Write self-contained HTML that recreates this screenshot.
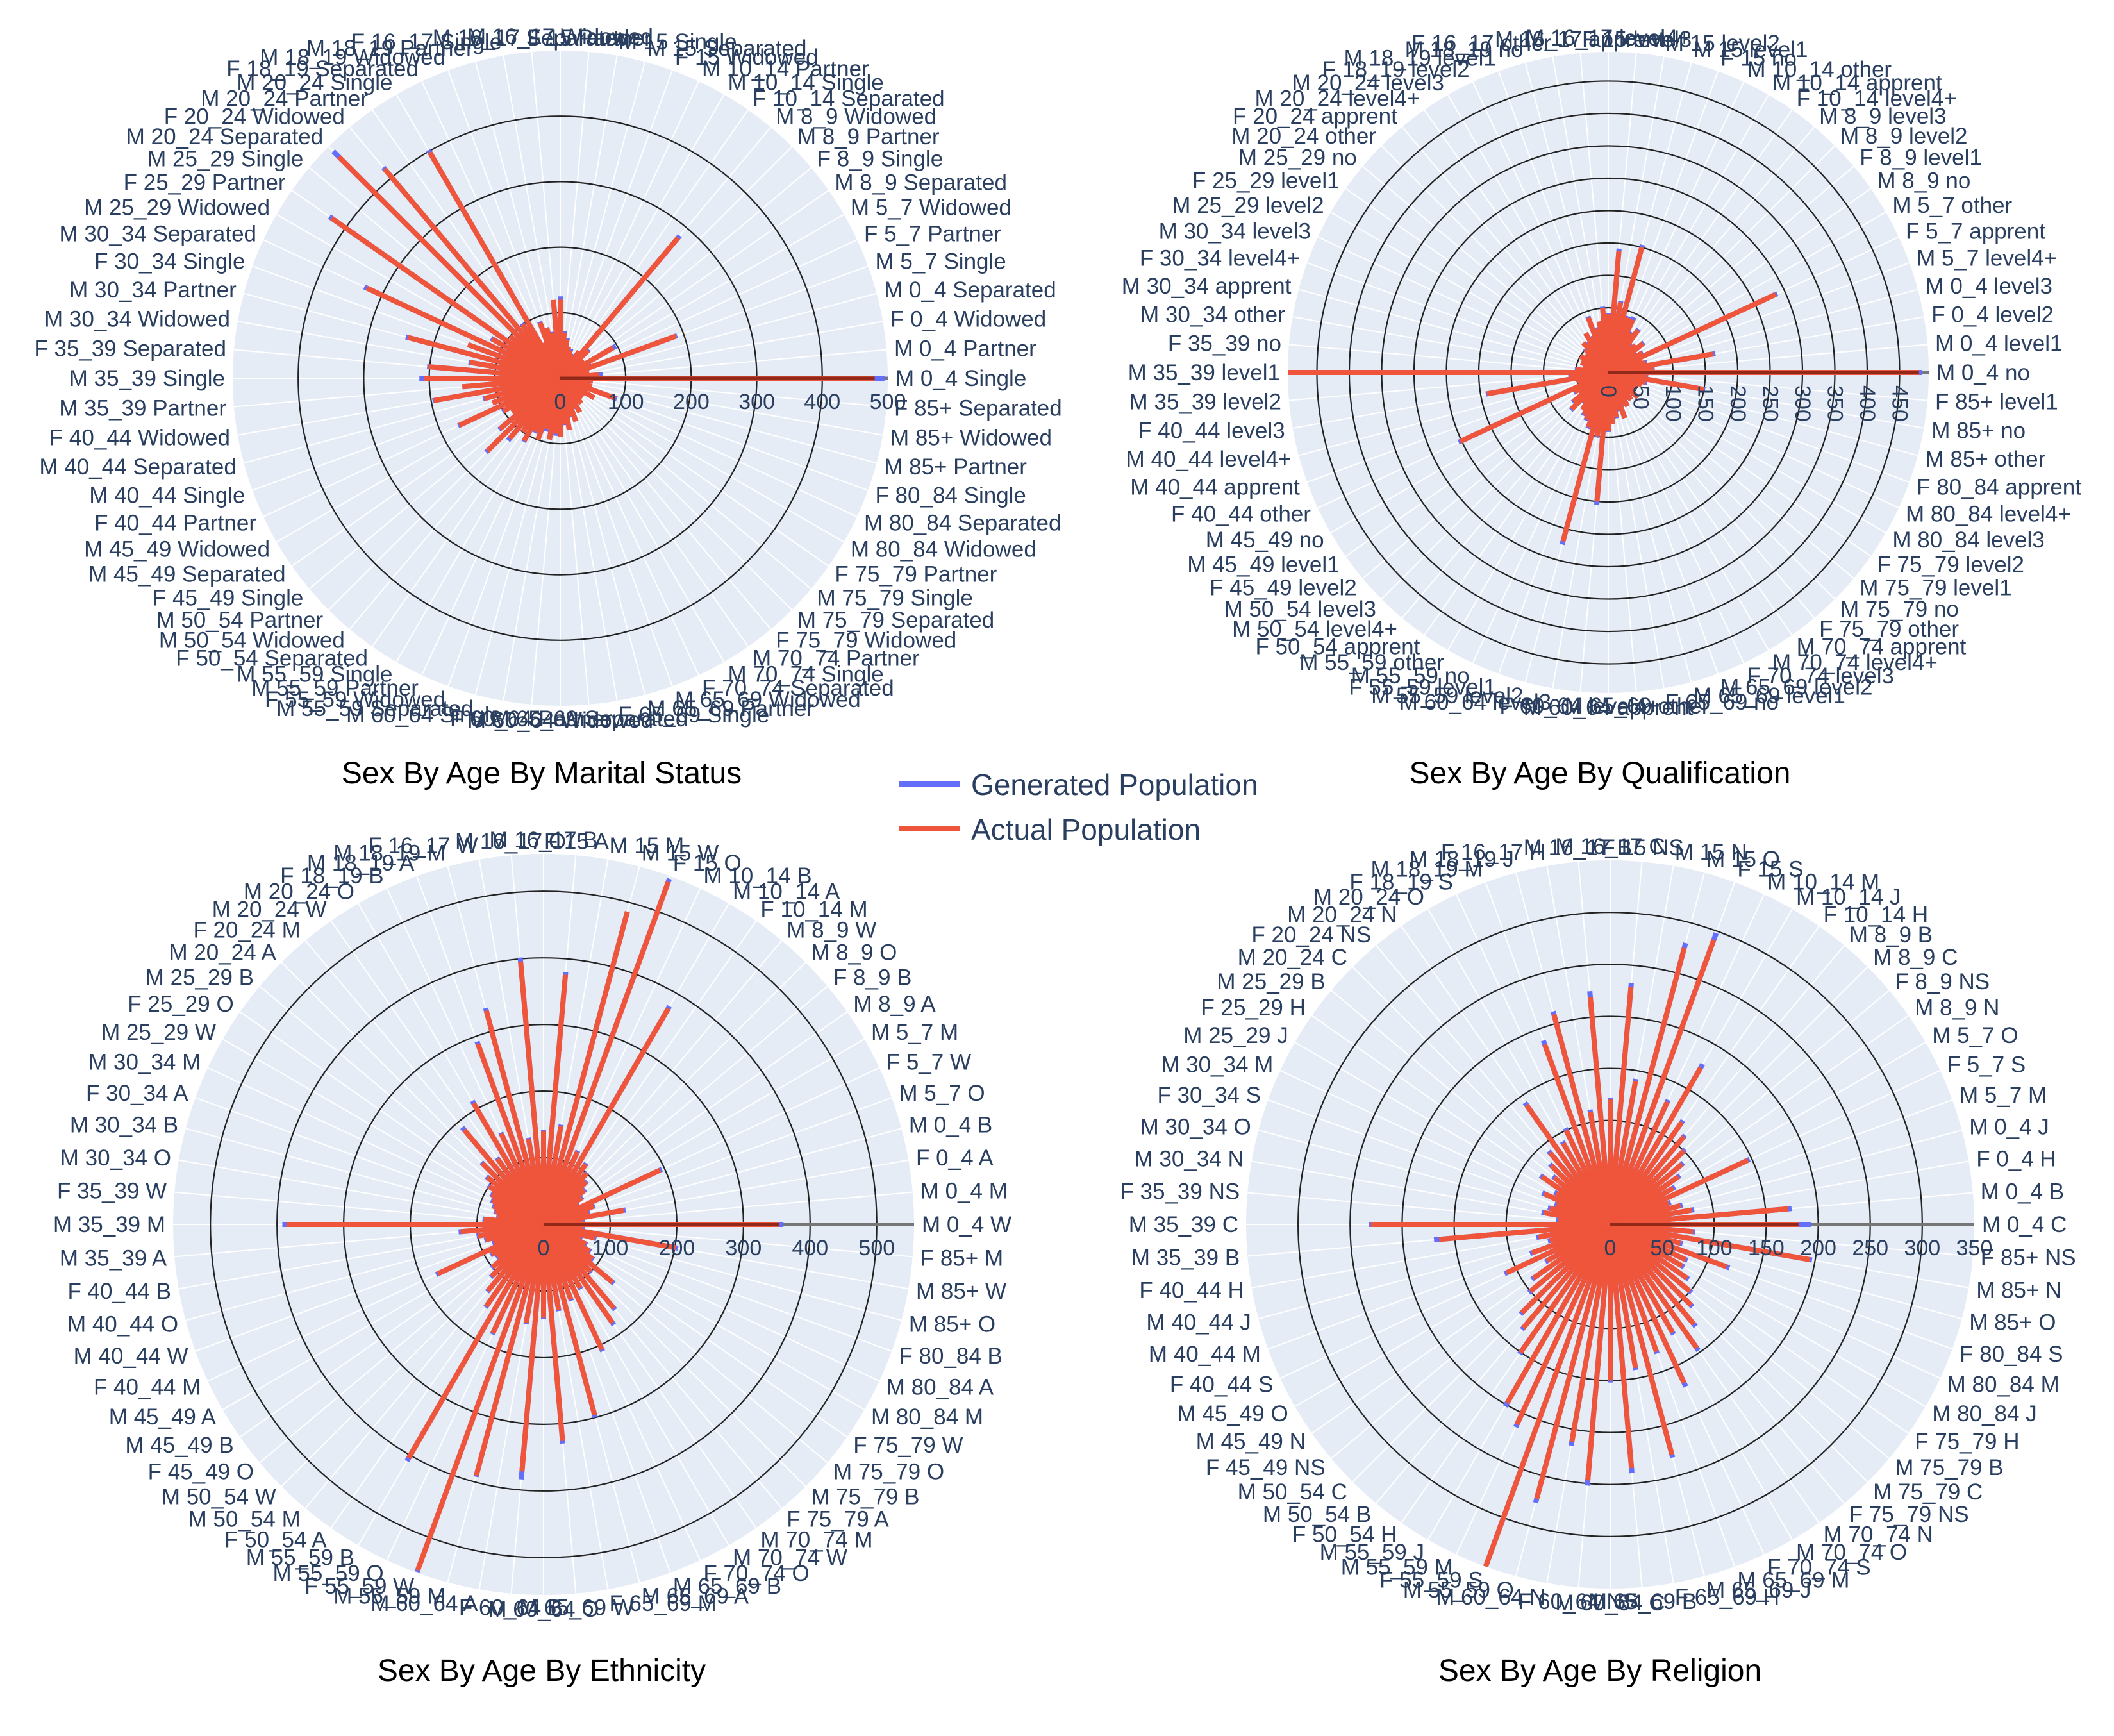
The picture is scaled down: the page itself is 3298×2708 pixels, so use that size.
<!DOCTYPE html>
<html><head><meta charset="utf-8"><style>
html,body{margin:0;padding:0;background:#fff;}
svg{display:block;font-family:"Liberation Sans",sans-serif;}
</style></head><body>
<svg id="root" width="3298" height="2708" viewBox="0 0 3298 2708" xmlns="http://www.w3.org/2000/svg">
<rect width="3298" height="2708" fill="#ffffff"/>
<g id="c1"></g>
<g id="c2"></g>
<g id="c3"></g>
<g id="c4"></g>
<text x="845" y="1222" font-size="48" text-anchor="middle" fill="#000">Sex By Age By Marital Status</text>
<text x="2496" y="1222" font-size="48" text-anchor="middle" fill="#000">Sex By Age By Qualification</text>
<text x="845" y="2622" font-size="48" text-anchor="middle" fill="#000">Sex By Age By Ethnicity</text>
<text x="2496" y="2622" font-size="48" text-anchor="middle" fill="#000">Sex By Age By Religion</text>
<g>
<g>
<line x1="1403" y1="1223" x2="1497" y2="1223" stroke="#636efa" stroke-width="8"/>
<text x="1515" y="1240" font-size="46" fill="#2a3f5f">Generated Population</text></g>
<g>
<line x1="1403" y1="1293" x2="1497" y2="1293" stroke="#ef553b" stroke-width="8"/>
<text x="1515" y="1310" font-size="46" fill="#2a3f5f">Actual Population</text></g>
</g>
</svg>
<script>
const ages = ["0_4","5_7","8_9","10_14","15","16_17","18_19","20_24","25_29","30_34","35_39","40_44","45_49","50_54","55_59","60_64","65_69","70_74","75_79","80_84","85+"];
const maritalTypes = ["Single","Partner","Widowed","Separated"];
const qualTypes = ["no","level1","level2","level3","level4+","apprent","other"];
const ethTypes = ["W","M","A","B","O"];
const relTypes = ["C","B","H","J","M","S","O","N","NS"];

const maritalActual = [480,60,40,45,188,50,93,40,45,60,280,50,40,35,45,50,60,70,120,120,70,80,90,60,398,100,417,478,100,426,120,326,150,241,140,202,208,150,196,120,110,170,100,90,120,157,120,100,110,90,100,80,95,85,90,70,80,60,70,50,60,45,50,40,45,40,60,45,90,50,40,50];
const maritalGenerated = [495,65,42,45,190,52,98,42,45,62,284,50,42,35,48,50,62,72,125,118,72,80,92,60,402,102,420,490,100,430,122,330,150,244,142,204,215,150,198,122,110,172,102,90,122,160,124,100,112,92,100,84,95,88,90,72,80,62,70,52,60,47,50,42,45,42,60,47,92,50,42,50];

const qualActual = [480,70,165,60,55,285,60,50,70,60,55,80,70,90,90,200,110,188,90,100,80,70,90,60,70,55,60,50,45,40,50,40,45,35,40,50,495,60,190,50,45,252,60,55,70,80,60,70,75,80,90,270,100,200,90,80,70,60,75,55,60,50,55,45,60,40,50,45,55,60,150,60];
const qualGenerated = [485,72,168,62,55,288,62,52,72,60,57,82,72,94,92,204,112,192,92,102,80,72,92,62,70,57,60,52,45,42,50,42,45,37,40,52,495,62,192,50,47,255,62,55,72,82,62,70,77,82,92,275,102,205,92,80,72,62,75,57,60,52,55,47,60,42,50,47,55,62,152,62];

const ethActual = [353,60,122,70,80,193,60,70,80,90,100,110,374,120,547,486,150,376,140,396,130,332,288,150,210,120,185,130,110,100,90,85,80,75,70,90,386,125,100,90,80,175,90,85,100,110,130,150,405,180,552,390,150,372,140,326,130,296,120,207,110,180,164,100,135,90,80,70,60,80,201,60];
const ethGenerated = [360,62,125,72,82,196,62,72,82,92,102,112,378,122,552,480,152,380,142,402,132,336,292,152,214,122,190,132,112,102,92,87,82,77,72,92,392,128,102,92,82,178,92,87,102,112,132,152,410,182,555,392,152,384,142,330,132,300,122,210,112,184,167,102,138,92,82,72,62,82,205,62];

const relActual = [181,172,80,70,60,146,70,80,90,100,110,120,174,130,291,275,140,229,120,219,110,209,184,100,90,140,90,80,70,80,60,70,55,60,65,50,230,165,70,60,80,110,70,90,100,120,130,150,198,212,350,273,212,247,150,235,140,229,130,168,120,145,125,110,100,90,80,80,119,70,195,80];
const relGenerated = [193,175,82,72,62,148,72,82,92,102,112,122,178,132,298,280,142,233,122,225,112,212,188,102,92,143,92,82,72,82,62,72,57,62,67,52,232,170,72,62,82,112,72,92,102,122,132,152,202,215,350,277,216,252,152,240,142,232,132,172,122,148,128,112,102,92,82,82,122,72,197,82];

const maritalTicks = [0,100,200,300,400,500];
const qualTicks = [0,50,100,150,200,250,300,350,400,450];
const ethTicks = [0,100,200,300,400,500];
const relTicks = [0,50,100,150,200,250,300,350];

const NS = "http://www.w3.org/2000/svg";
function mk(tag, attrs, parent){
  const e = document.createElementNS(NS, tag);
  for (const k in attrs) e.setAttribute(k, attrs[k]);
  parent.appendChild(e);
  return e;
}
function makeLabels(types, n){
  const out = [];
  for (let i = 0; i < n; i++){
    const a = ages[Math.floor(i * ages.length / n) % ages.length];
    const s = (i % 3 === 2) ? "F" : "M";
    out.push(s + " " + a + " " + types[i % types.length]);
  }
  return out;
}

function drawChart(id, cx, cy, R, range, ticks, labels, actual, generated, rotTicks, key){
  const g = document.getElementById(id);
  const n = actual.length;
  const rs = v => Math.min(v, range) / range * R;
  const ang = i => i * 2 * Math.PI / n;
  const disk = mk("circle", {cx:cx, cy:cy, r:R, fill:"#e5ecf6"}, g);
  
  
  const grid = mk("g", {}, g);
  
  
  for (let i = 0; i < n; i++){
    const a = ang(i);
    mk("line", {x1:cx, y1:cy, x2:cx + R*Math.cos(a), y2:cy - R*Math.sin(a), stroke:"#ffffff", "stroke-width":2}, grid);
  }
  const rings = mk("g", {}, g);
  
  
  ticks.forEach(t => {
    if (t > 0 && t < range - 1) mk("circle", {cx:cx, cy:cy, r:rs(t), fill:"none", stroke:"#222", "stroke-width":2.2}, rings);
  });
  const ax = mk("line", {x1:cx, y1:cy, x2:cx + R, y2:cy, stroke:"#777", "stroke-width":5}, g);
  
  
  const gs = mk("g", {}, g);
  
  
  generated.forEach((v, i) => {
    const a = ang(i), r = rs(v);
    const l = mk("line", {x1:cx, y1:cy, x2:cx + r*Math.cos(a), y2:cy - r*Math.sin(a), stroke:"#636efa", "stroke-width":8}, gs);
    
    
  });
  const as = mk("g", {}, g);
  
  
  actual.forEach((v, i) => {
    const a = ang(i), r = rs(v);
    const l = mk("line", {x1:cx, y1:cy, x2:cx + r*Math.cos(a), y2:cy - r*Math.sin(a), stroke:"#ef553b", "stroke-width":8}, as);
    
    
  });
  mk("line", {x1:cx, y1:cy, x2:cx + rs(Math.min(actual[0], generated[0])), y2:cy, stroke:"#7a1f14", "stroke-width":5, opacity:0.8}, g);
  const tl = mk("g", {fill:"#2a3f5f", "font-size":34}, g);
  
  
  ticks.forEach(t => {
    const x = cx + rs(t);
    let e;
    if (rotTicks){
      e = mk("text", {x:0, y:0, transform:"translate(" + (x - 11) + "," + (cy + 20) + ") rotate(90)", "text-anchor":"start"}, tl);
    } else {
      e = mk("text", {x:x, y:cy + 48, "text-anchor":"middle"}, tl);
    }
    e.textContent = String(t);
    
    
  });
  const al = mk("g", {fill:"#2a3f5f", "font-size":35}, g);
  
  
  labels.forEach((s, i) => {
    const a = ang(i), c = Math.cos(a), sn = Math.sin(a);
    const rr = R + 12;
    const anchor = c > 0.15 ? "start" : (c < -0.15 ? "end" : "middle");
    const x = cx + rr*c, y = cy - rr*sn + 12 - sn*10;
    const e = mk("text", {x:x, y:y, "text-anchor":anchor}, al);
    e.textContent = s;
    
    
  });
}

drawChart("c1", 874, 590, 511, 500, maritalTicks, makeLabels(maritalTypes, maritalActual.length), maritalActual, maritalGenerated, false, "marital");
drawChart("c2", 2509, 581, 500, 495, qualTicks, makeLabels(qualTypes, qualActual.length), qualActual, qualGenerated, true, "qualification");
drawChart("c3", 848, 1910, 578, 556, ethTicks, makeLabels(ethTypes, ethActual.length), ethActual, ethGenerated, false, "ethnicity");
drawChart("c4", 2512, 1910, 568, 350, relTicks, makeLabels(relTypes, relActual.length), relActual, relGenerated, false, "religion");
</script>
</body></html>
